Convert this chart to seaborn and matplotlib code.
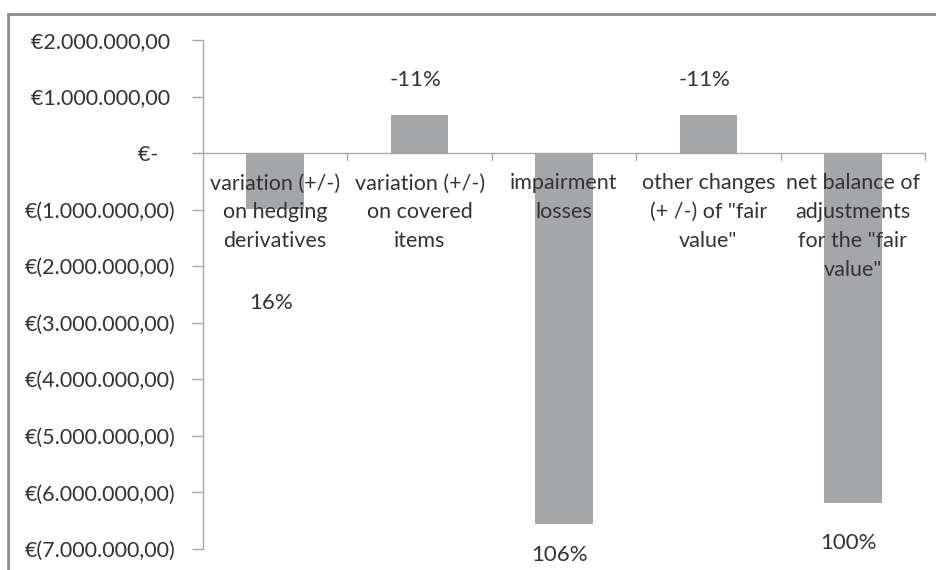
import matplotlib
matplotlib.use("Agg")
import matplotlib.pyplot as plt
from matplotlib.ticker import FuncFormatter, FixedLocator
from matplotlib.lines import Line2D
import seaborn as sns
import pandas as pd

# Fair value adjustment components (EUR)
categories = [
    "variation (+/-)\non hedging\nderivatives",
    "variation (+/-)\non covered\nitems",
    "impairment\nlosses",
    "other changes\n(+ /-) of \"fair\nvalue\"",
    "net balance of\nadjustments\nfor the \"fair\nvalue\"",
]
values = [-990000, 680000, -6550000, 680000, -6180000]
y_ticks = [2e6, 1e6, 0, -1e6, -2e6, -3e6, -4e6, -5e6, -6e6, -7e6]

# vertical anchor of each share label (data units)
share_label_y = [-2.65e6, 1.29e6, -7.11e6, 1.29e6, -6.90e6]

sns.set_theme(style="white")
plt.rcParams["font.family"] = ["Lato", "DejaVu Sans"]

TEXT = "#333333"
GRID = "#a6a6a6"
BAR = "#a5a6aa"
FS = 15.5

df = pd.DataFrame({"category": categories, "value": values})
total = values[-1]

fig = plt.figure(figsize=(9.37, 5.70), dpi=100)
ax = fig.add_axes([203 / 937, 1 - 549 / 570, (925 - 203) / 937, (549 - 40) / 570])

sns.barplot(data=df, x="category", y="value", color=BAR, width=0.4,
            saturation=1, ax=ax, linewidth=0)

ax.set_ylim(-7e6, 2e6)
ax.set_xlim(-0.5, len(categories) - 0.5)


def euro(v, pos=None):
    if abs(v) < 1:
        return "€-   "
    s = f"{abs(v):,.2f}".replace(",", "X").replace(".", ",").replace("X", ".")
    return f"€({s})" if v < 0 else f"€{s} "


ax.yaxis.set_major_locator(FixedLocator(y_ticks))
ax.yaxis.set_major_formatter(FuncFormatter(euro))
ax.tick_params(axis="y", which="major", direction="out", length=8, width=1,
               color=GRID, labelsize=FS, labelcolor=TEXT, pad=12, left=True)
ax.set_xticks([])
ax.set_xlabel("")
ax.set_ylabel("")

for side in ["top", "right", "bottom"]:
    ax.spines[side].set_visible(False)
ax.spines["left"].set_color(GRID)
ax.spines["left"].set_linewidth(1)

# zero line with category separators
ax.axhline(0, color=GRID, lw=1, zorder=3)
tick_h = 0.13e6
for b in range(1, len(categories) + 1):
    ax.plot([b - 0.5, b - 0.5], [0, -tick_h], color=GRID, lw=1, clip_on=False, zorder=3)

# category names sit just under the zero line
for i, name in enumerate(categories):
    ax.text(i, -0.36e6, name, ha="center", va="top", fontsize=FS,
            color=TEXT, linespacing=1.55, zorder=4)

# share of the net balance
for i, (v, ly) in enumerate(zip(values, share_label_y)):
    ax.text(i - 0.03, ly, f"{round(v / total * 100):d}%", ha="center", va="center",
            fontsize=16, color=TEXT, clip_on=False, zorder=4)

# chart frame
fig.add_artist(Line2D([8 / 937, 8 / 937], [0, 1 - 14 / 570], color="#8c8c8c", lw=2,
                      transform=fig.transFigure))
fig.add_artist(Line2D([8 / 937, 1], [1 - 14 / 570, 1 - 14 / 570], color="#8c8c8c", lw=2,
                      transform=fig.transFigure))

fig.savefig("out.png", dpi=100, facecolor="white")
